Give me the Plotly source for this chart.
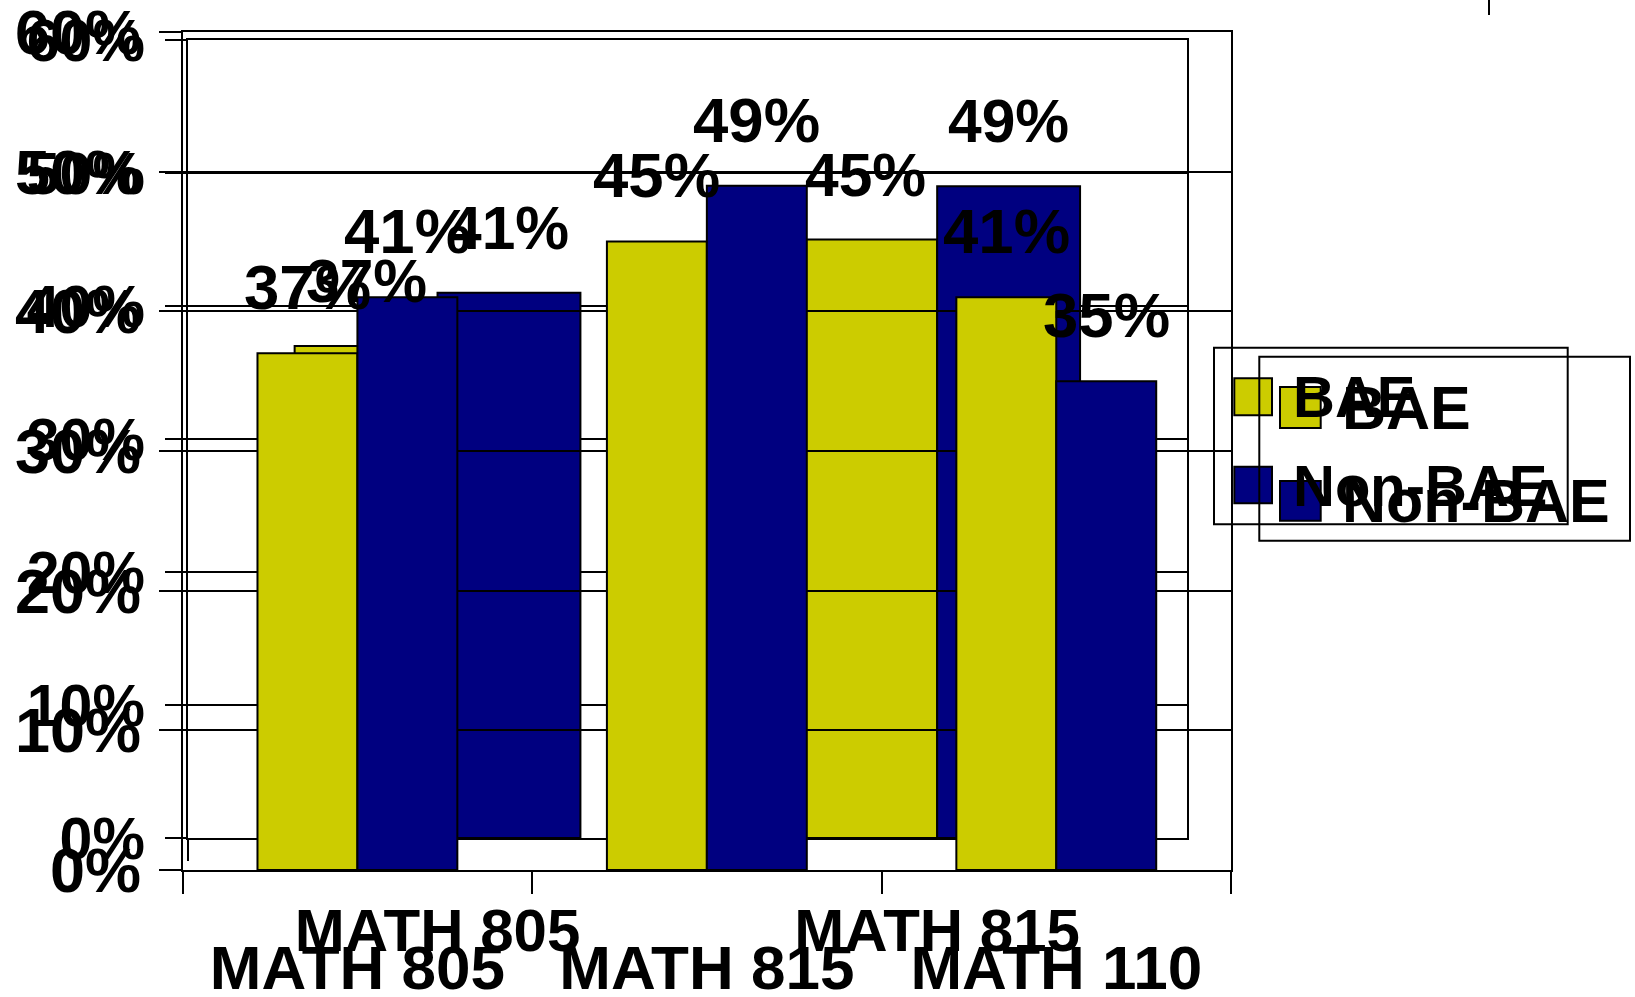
import plotly.graph_objects as go

# ---------------- data ----------------
categories_a = ["MATH 805", "MATH 815", "MATH 110"]
bae_a = [0.37, 0.45, 0.41]
nonbae_a = [0.41, 0.49, 0.35]

categories_b = ["MATH 805", "MATH 815"]
bae_b = [0.37, 0.45]
nonbae_b = [0.41, 0.49]

series_names = ["BAE", "Non-BAE"]
ytick_vals = [0, 0.1, 0.2, 0.3, 0.4, 0.5, 0.6]
ytick_text = ["0%", "10%", "20%", "30%", "40%", "50%", "60%"]
label_text_a = [["37%", "45%", "41%"], ["41%", "49%", "35%"]]
label_text_b = [["37%", "45%"], ["41%", "49%"]]

# ---------------- style ----------------
W, H = 1635, 997
YELLOW = "#CCCC00"
NAVY = "#000080"
FONT = "Liberation Sans, Arial, sans-serif"
BARGAP = 0.428
YMAX = 0.6000001

def px_x(v):
    return v / W

def px_y(v):
    return 1 - v / H

fig = go.Figure()

# chart B (drawn underneath)
fig.add_trace(go.Bar(x=categories_b, y=bae_b, name=series_names[0], xaxis="x", yaxis="y",
                     marker=dict(color=YELLOW, line=dict(color="black", width=2)), showlegend=False))
fig.add_trace(go.Bar(x=categories_b, y=nonbae_b, name=series_names[1], xaxis="x", yaxis="y",
                     marker=dict(color=NAVY, line=dict(color="black", width=2)), showlegend=False))
# chart A (drawn on top)
fig.add_trace(go.Bar(x=categories_a, y=bae_a, name=series_names[0], xaxis="x2", yaxis="y2",
                     marker=dict(color=YELLOW, line=dict(color="black", width=2)), showlegend=False))
fig.add_trace(go.Bar(x=categories_a, y=nonbae_a, name=series_names[1], xaxis="x2", yaxis="y2",
                     marker=dict(color=NAVY, line=dict(color="black", width=2)), showlegend=False))

def yaxis_style(domain, fs, ticklen, standoff, anchor):
    return dict(domain=domain, range=[0, YMAX], tickvals=ytick_vals, ticktext=ytick_text,
                showgrid=True, gridcolor="black", gridwidth=2, zeroline=False,
                showline=True, linecolor="black", linewidth=2, mirror=True,
                ticks="outside", ticklen=ticklen, tickwidth=2, tickcolor="black",
                ticklabelstandoff=standoff, ticklabeloverflow="allow",
                anchor=anchor, automargin=False,
                tickfont=dict(family=FONT, size=fs, color="black", weight="bold"))

def xaxis_style(domain, fs, ticklen, standoff, anchor):
    return dict(domain=domain, type="category", showgrid=False, zeroline=False,
                showline=True, linecolor="black", linewidth=2, mirror=True,
                ticks="outside", ticklen=ticklen, tickwidth=2, tickcolor="black",
                tickson="boundaries", ticklabelstandoff=standoff, ticklabeloverflow="allow",
                anchor=anchor, automargin=False,
                tickfont=dict(family=FONT, size=fs, color="black", weight="bold"))

fig.update_layout(
    template="none",
    xaxis=xaxis_style([px_x(187.7), px_x(1187)], 60, 21, 39, "y"),
    yaxis=yaxis_style([px_y(838), px_y(40)], 59, 21, 8, "x"),
    xaxis2=xaxis_style([px_x(182.7), px_x(1231)], 62, 22, 43, "y2"),
    yaxis2=yaxis_style([px_y(870), px_y(32)], 63, 22, 5, "x2"),
)

annotations = []
half = (1 - BARGAP) / 2
for i, (vals, texts) in enumerate(zip([bae_b, nonbae_b], label_text_b)):
    for j, (v, t) in enumerate(zip(vals, texts)):
        annotations.append(dict(x=j + (i - 0.5) * half, y=v, xref="x", yref="y", text=t,
                                showarrow=False, yanchor="bottom", yshift=29,
                                font=dict(family=FONT, size=60.5, color="black", weight="bold")))
for i, (vals, texts) in enumerate(zip([bae_a, nonbae_a], label_text_a)):
    for j, (v, t) in enumerate(zip(vals, texts)):
        annotations.append(dict(x=j + (i - 0.5) * half, y=v, xref="x2", yref="y2", text=t,
                                showarrow=False, yanchor="bottom", yshift=29,
                                font=dict(family=FONT, size=63.5, color="black", weight="bold")))

shapes = []
# manual legends (two overlapping legend boxes)
legends = [
    dict(box=(1214, 347.7, 1567.7, 524.3), mk_x=(1234.3, 1272), mk_y=[(378.3, 415.3), (466.7, 503.3)],
         text_x=1291, fs=58),
    dict(box=(1259.3, 356.7, 1630, 540.7), mk_x=(1280, 1320.7), mk_y=[(387, 428), (481, 520.7)],
         text_x=1340, fs=61),
]
colors = [YELLOW, NAVY]
for lg in legends:
    x0, y0, x1, y1 = lg["box"]
    shapes.append(dict(type="rect", xref="paper", yref="paper", x0=px_x(x0), x1=px_x(x1),
                       y0=px_y(y1), y1=px_y(y0), line=dict(color="black", width=2),
                       fillcolor="rgba(0,0,0,0)", layer="above"))
    for k, name in enumerate(series_names):
        my0, my1 = lg["mk_y"][k]
        shapes.append(dict(type="rect", xref="paper", yref="paper", x0=px_x(lg["mk_x"][0]),
                           x1=px_x(lg["mk_x"][1]), y0=px_y(my1), y1=px_y(my0),
                           line=dict(color="black", width=2), fillcolor=colors[k], layer="above"))
        annotations.append(dict(x=px_x(lg["text_x"]), y=px_y((my0 + my1) / 2), xref="paper", yref="paper",
                                text=name, showarrow=False, xanchor="left", yanchor="middle",
                                font=dict(family=FONT, size=lg["fs"], color="black", weight="bold")))

# stray tick mark at top right
shapes.append(dict(type="line", xref="paper", yref="paper", x0=px_x(1489), x1=px_x(1489),
                   y0=px_y(15), y1=px_y(0), line=dict(color="black", width=2), layer="above"))

fig.update_layout(
    width=W, height=H, autosize=False,
    margin=dict(l=0, r=0, t=0, b=0, pad=0),
    paper_bgcolor="white", plot_bgcolor="rgba(0,0,0,0)",
    barmode="group", bargap=BARGAP, bargroupgap=0,
    showlegend=False,
    annotations=annotations, shapes=shapes,
    font=dict(family=FONT, color="black"),
)

fig.write_html("out.html", config={"displayModeBar": False},
               post_script="document.body.style.margin='0';document.body.style.overflow='hidden';")
